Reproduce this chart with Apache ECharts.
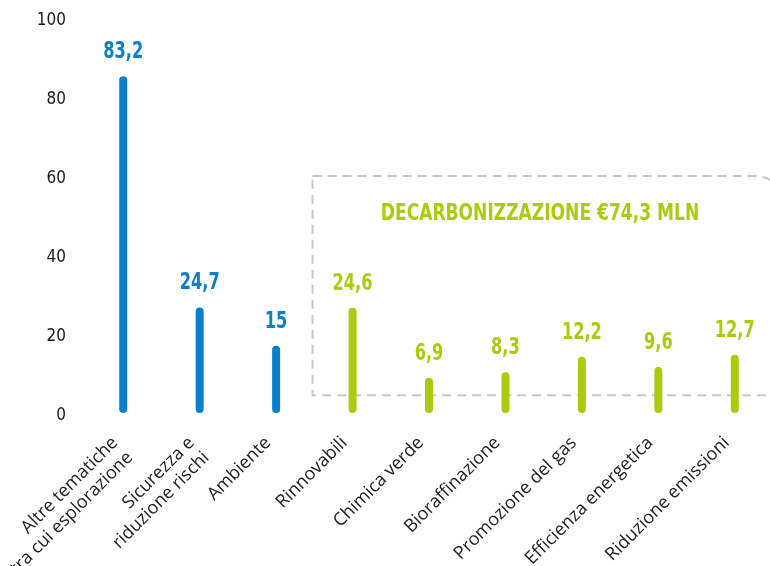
<!DOCTYPE html>
<html>
<head>
<meta charset="utf-8">
<script src="https://cdn.jsdelivr.net/npm/echarts@6/dist/echarts.min.js"></script>
<style>
  html, body { margin: 0; padding: 0; background: #fff; }
  #chart { width: 770px; height: 566px; }
</style>
</head>
<body>
<div id="chart"></div>
<script>
// categorie e valori (milioni di euro)
const categories = [
  'Altre tematiche\ntra cui esplorazione',
  'Sicurezza e\nriduzione rischi',
  'Ambiente',
  'Rinnovabili',
  'Chimica verde',
  'Bioraffinazione',
  'Promozione del gas',
  'Efficienza energetica',
  'Riduzione emissioni'
]
const values = [83.2, 24.7, 15, 24.6, 6.9, 8.3, 12.2, 9.6, 12.7]
const groups = ['altro', 'altro', 'altro', 'decarb', 'decarb', 'decarb', 'decarb', 'decarb', 'decarb']
const yTicks = [0, 20, 40, 60, 80, 100]
const boxTitle = 'DECARBONIZZAZIONE €74,3 MLN'

const BLUE = '#0A7FCA'
const GREEN = '#AECA0C'
const numFont = '"DejaVu Sans Condensed", "DejaVu Sans", sans-serif'

const chart = echarts.init(document.getElementById('chart'))

// barra = linea con estremi arrotondati, da 0 al valore
function renderBar(params, api) {
  const i = api.value(0)
  const v = api.value(1)
  const c = groups[i] === 'altro' ? BLUE : GREEN
  const p0 = api.coord([i, 0])
  const p1 = api.coord([i, v])
  return {
    type: 'group',
    children: [
      {
        type: 'line',
        shape: { x1: p0[0], y1: p0[1], x2: p1[0], y2: p1[1] },
        style: { stroke: c, lineWidth: 8, lineCap: 'round' }
      },
      {
        type: 'text',
        x: p1[0],
        y: p1[1] - 28,
        scaleY: 1.25,
        style: {
          text: String(v).replace('.', ','),
          fill: c,
          font: 'bold 18px ' + numFont,
          align: 'center',
          verticalAlign: 'middle'
        }
      }
    ]
  }
}

const option = {
  animation: false,
  grid: { left: 85, top: 14, width: 688, bottom: 157, containLabel: false, outerBoundsMode: 'none' },
  xAxis: {
    type: 'category',
    data: categories,
    axisLine: { show: false },
    axisTick: { show: false },
    axisLabel: {
      interval: 0,
      rotate: 45,
      margin: 8,
      align: 'right',
      verticalAlign: 'top',
      padding: [0, 22, 0, 0],
      color: '#222',
      fontFamily: '"Open Sans", sans-serif',
      fontSize: 18,
      lineHeight: 21
    }
  },
  yAxis: {
    type: 'value',
    min: yTicks[0],
    max: yTicks[yTicks.length - 1],
    interval: 20,
    axisLine: { show: false },
    axisTick: { show: false },
    splitLine: { show: false },
    axisLabel: {
      margin: 19,
      verticalAlign: 'top',
      lineHeight: 14,
      color: '#1a1a1a',
      fontFamily: numFont,
      fontSize: 17
    }
  },
  series: [{
    type: 'custom',
    renderItem: renderBar,
    data: values.map((v, i) => [i, v])
  }]
}

chart.setOption(option)

// riquadro tratteggiato intorno al gruppo "decarbonizzazione"
const firstIdx = groups.indexOf('decarb')
const pLeft = chart.convertToPixel({ gridIndex: 0 }, [firstIdx, 3.5])
const pTop = chart.convertToPixel({ gridIndex: 0 }, [firstIdx, 59])
const boxX = pLeft[0] - 40
const boxY = pTop[1]
const boxH = pLeft[1] - pTop[1]
const boxW = 790 - boxX

chart.setOption({
  graphic: [
    {
      type: 'rect',
      z: -1,
      shape: { x: boxX, y: boxY, width: boxW, height: boxH, r: [0, 36, 0, 0] },
      style: { fill: 'none', stroke: '#C8C8C8', lineWidth: 2, lineDash: [9, 6] }
    },
    {
      type: 'text',
      x: 540,
      y: boxY + 38,
      scaleY: 1.22,
      style: {
        text: boxTitle,
        fill: GREEN,
        font: 'bold 19px ' + numFont,
        align: 'center',
        verticalAlign: 'middle'
      }
    }
  ]
})
</script>
</body>
</html>
